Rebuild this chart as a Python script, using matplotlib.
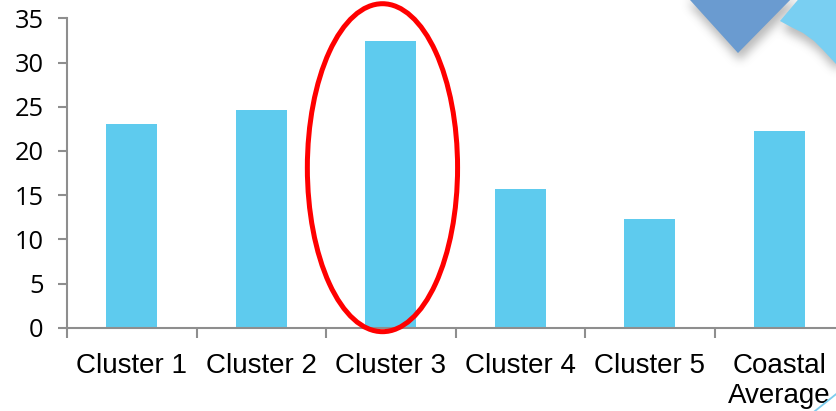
import numpy as np
import matplotlib
matplotlib.use("Agg")
import matplotlib.pyplot as plt
from matplotlib.patches import Ellipse, Polygon
from matplotlib.path import Path

# ---- data -------------------------------------------------------------
categories = ["Cluster 1", "Cluster 2", "Cluster 3", "Cluster 4", "Cluster 5",
              "Coastal\nAverage"]
values = [23.0, 24.6, 32.4, 15.7, 12.3, 22.25]
y_ticks = [0, 5, 10, 15, 20, 25, 30, 35]
highlight = "Cluster 3"

# ---- figure -----------------------------------------------------------
W, H, DPI = 836, 411, 100
fig = plt.figure(figsize=(W / DPI, H / DPI), dpi=DPI)
fig.patch.set_facecolor("white")

# axes run slightly past the right edge of the canvas
ax = fig.add_axes([67 / W, (H - 327.7) / H, 777 / W, 309.4 / H])

x = np.arange(len(categories))
ax.bar(x, values, width=0.395, color="#5ECBEE", zorder=2)

ax.set_xlim(-0.5, len(categories) - 0.5)
ax.set_ylim(0, y_ticks[-1])

axis_grey = "#8E8E8E"
for side in ("top", "right"):
    ax.spines[side].set_visible(False)
for side in ("left", "bottom"):
    ax.spines[side].set_color(axis_grey)
    ax.spines[side].set_linewidth(1.5)

ax.set_yticks(y_ticks)
ax.set_yticklabels([str(t) for t in y_ticks], fontsize=18.3,
                   fontfamily="Open Sans", color="#000000")
ax.tick_params(axis="y", direction="out", length=6.5, width=1.5,
               color=axis_grey, pad=10.3)

# labels at the centres, tick marks on the category boundaries
ax.set_xticks(x)
ax.set_xticklabels(categories, fontsize=20, fontfamily="Liberation Sans",
                   color="#000000", linespacing=1.2)
ax.tick_params(axis="x", which="major", length=0, pad=18.5)
ax.set_xticks(np.arange(len(categories) + 1) - 0.5, minor=True)
ax.tick_params(axis="x", which="minor", direction="out", length=7.2,
               width=1.5, color=axis_grey)

# red ring around the highlighted cluster
hi = categories.index(highlight)
ring = Ellipse((hi - 0.064, 18.1), width=1.16, height=37.1, fill=False,
               ec="#FF0000", lw=3.6, clip_on=False, zorder=6)
ax.add_patch(ring)

# ---- corner decoration ------------------------------------------------
def fig_pts(pts):
    return [(px / W, (H - py) / H) for px, py in pts]

dark_tri = [(685.5, -5), (738, 53), (795, -5)]
light_tab = [(802, -5), (780, 21), (791, 27), (803, 33), (814, 41),
             (823, 50), (836, 64), (850, 80), (850, -5)]

# soft drop shadow rendered as a blurred alpha mask
yy, xx = np.mgrid[0:H, 0:W]
grid = np.column_stack([xx.ravel() + 0.5, yy.ravel() + 0.5])
mask = np.zeros(H * W)
for poly in (dark_tri, light_tab):
    shifted = [(px + 2, py + 8) for px, py in poly]
    mask = np.maximum(mask, Path(shifted).contains_points(grid))
mask = mask.reshape(H, W).astype(float)


def box_blur(a, r):
    for axis in (0, 1):
        pad = [(0, 0), (0, 0)]
        pad[axis] = (r + 1, r)
        p = np.pad(a, pad, mode="edge")
        c = np.cumsum(p, axis=axis)
        if axis == 0:
            a = (c[2 * r + 1:, :] - c[:-2 * r - 1, :]) / (2 * r + 1)
        else:
            a = (c[:, 2 * r + 1:] - c[:, :-2 * r - 1]) / (2 * r + 1)
    return a


for _ in range(3):
    mask = box_blur(mask, 4)
shadow = np.zeros((H, W, 4))
shadow[..., :3] = 0.4
shadow[..., 3] = mask * 0.45
fig.figimage(shadow, xo=0, yo=0, origin="upper", zorder=8)

fig.add_artist(Polygon(fig_pts(dark_tri), closed=True, fc="#6A9BD0",
                       ec="none", transform=fig.transFigure, zorder=9))
fig.add_artist(Polygon(fig_pts(light_tab), closed=True, fc="#79CFF2",
                       ec="none", transform=fig.transFigure, zorder=9))

# thin accent line in the lower right corner
fig.add_artist(plt.Line2D([815 / W, 845 / W], [0 / H, 24 / H],
                          color="#7CCDEE", lw=1.3,
                          transform=fig.transFigure, zorder=9))

fig.savefig("out.png", dpi=DPI)
